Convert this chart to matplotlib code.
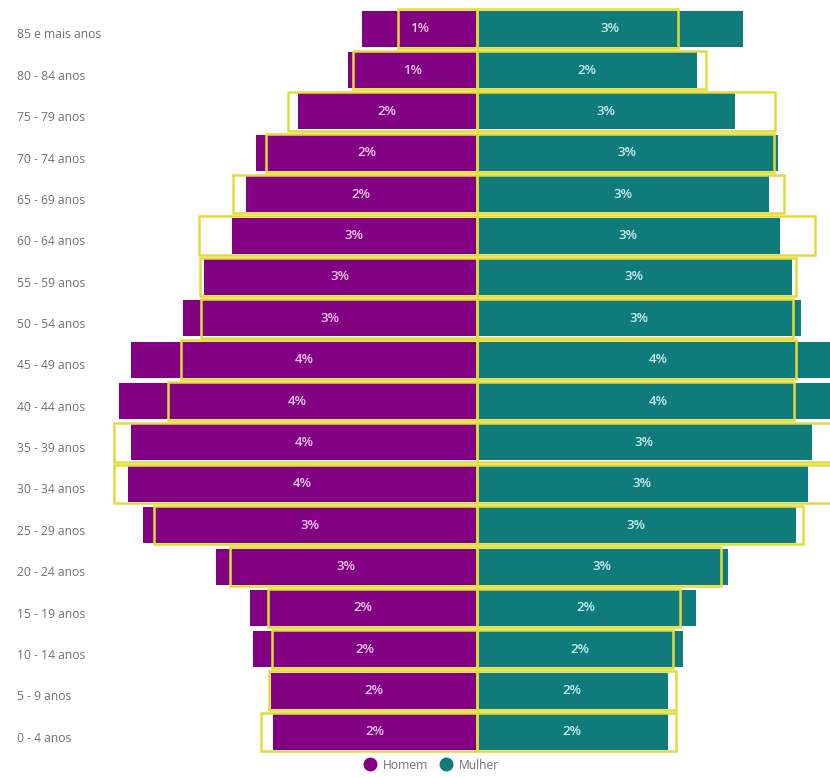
import matplotlib
matplotlib.use("Agg")
import matplotlib.pyplot as plt
from matplotlib.lines import Line2D
from matplotlib.transforms import blended_transform_factory

plt.rcParams['font.family'] = ['Open Sans', 'DejaVu Sans']

# age groups, oldest first (top of the pyramid)
faixas = ["85 e mais anos", "80 - 84 anos", "75 - 79 anos", "70 - 74 anos",
          "65 - 69 anos", "60 - 64 anos", "55 - 59 anos", "50 - 54 anos",
          "45 - 49 anos", "40 - 44 anos", "35 - 39 anos", "30 - 34 anos",
          "25 - 29 anos", "20 - 24 anos", "15 - 19 anos", "10 - 14 anos",
          "5 - 9 anos", "0 - 4 anos"]

# share of population (%) per age group
homem = [1.18, 1.32, 1.84, 2.27, 2.38, 2.52, 2.81, 3.03, 3.56, 3.69,
         3.56, 3.59, 3.44, 2.69, 2.34, 2.30, 2.12, 2.10]
mulher = [2.75, 2.27, 2.66, 3.11, 3.02, 3.13, 3.25, 3.35, 3.74, 3.74,
          3.46, 3.42, 3.29, 2.59, 2.26, 2.13, 1.97, 1.97]

# reference population (outlined boxes)
homem_ref = [0.81, 1.27, 1.94, 2.17, 2.51, 2.86, 2.85, 2.84, 3.05, 3.18,
             3.74, 3.74, 3.32, 2.54, 2.15, 2.11, 2.14, 2.22]
mulher_ref = [2.08, 2.37, 3.08, 3.07, 3.17, 3.49, 3.29, 3.26, 3.29, 3.27,
              3.75, 3.75, 3.37, 2.52, 2.10, 2.03, 2.06, 2.06]

roxo = '#820082'
verde = '#0f7b7b'
amarelo = '#e2dc3a'

n = len(faixas)
pos = [n - 1 - i for i in range(n)]

fig = plt.figure(figsize=(8.3, 7.77), dpi=100)
ax = fig.add_axes([100 / 830, 1 - 756.8 / 777, 730 / 830, (756.8 - 3.9) / 777])

ax.barh(pos, [-v for v in homem], height=0.87, color=roxo, zorder=2)
ax.barh(pos, mulher, height=0.87, color=verde, zorder=2)

ax.barh(pos, [-v for v in homem_ref], height=0.93, fill=False,
        edgecolor=amarelo, linewidth=1.8, zorder=3)
ax.barh(pos, mulher_ref, height=0.93, fill=False,
        edgecolor=amarelo, linewidth=1.8, zorder=3)

for y, h, m in zip(pos, homem, mulher):
    ax.text(-h / 2, y, f"{round(h)}%", ha='center', va='center',
            color='#f2c8ee', fontsize=9.5, fontweight='semibold', zorder=4)
    ax.text(m / 2, y, f"{round(m)}%", ha='center', va='center',
            color='#c9eeec', fontsize=9.5, fontweight='semibold', zorder=4)

# category labels on the left, outside the plotting area
rotulo = blended_transform_factory(fig.transFigure, ax.transData)
for y, nome in zip(pos, faixas):
    ax.text(17 / 830, y - 0.15, nome, transform=rotulo,
            ha='left', va='center', color='#707070', fontsize=8.7)

ax.set_xlim(-(476.5 - 100) / 97, (830 - 476.5) / 97)
ax.set_ylim(-0.6, n - 1 + 0.6)
ax.axis('off')

handles = [Line2D([], [], marker='o', linestyle='', markersize=9, color=roxo),
           Line2D([], [], marker='o', linestyle='', markersize=9, color=verde)]
fig.legend(handles, ["Homem", "Mulher"], loc='lower center',
           bbox_to_anchor=(0.516, -0.007), ncol=2, frameon=False,
           handletextpad=0.05, columnspacing=0.5, labelcolor='#707070',
           fontsize=8.7)

fig.savefig('out.png', dpi=100, facecolor='white')
